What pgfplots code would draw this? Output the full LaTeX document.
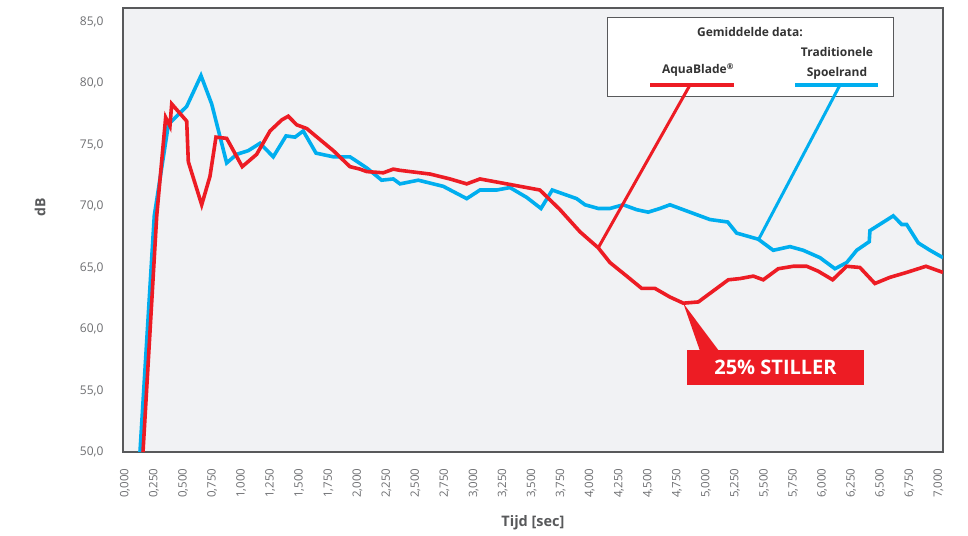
\documentclass[border=0pt]{standalone}
\usepackage{pgfplots}
\pgfplotsset{compat=1.18}
\usepackage{fontspec}
\setmainfont{Open Sans}
\definecolor{aqred}{HTML}{ED1C24}
\definecolor{aqblue}{HTML}{00AEEF}
\definecolor{plotbg}{HTML}{F1F2F4}
\definecolor{frame}{HTML}{58595B}
\definecolor{ticktxt}{HTML}{6D6E71}
\definecolor{labtxt}{HTML}{58595B}
\begin{document}
\begin{tikzpicture}[x=1pt,y=1pt]
\path[use as bounding box] (0,0) rectangle (968,535);
\begin{axis}[
  at={(123pt,83pt)}, anchor=south west,
  scale only axis, width=820pt, height=444pt,
  xmin=-0.0172, xmax=7.04, ymin=50, ymax=86.1,
  axis background/.style={fill=plotbg},
  axis line style={draw=frame, line width=1.1pt},
  clip=true,
  xtick={0,0.25,...,7}, ytick={50,55,...,85},
  major tick length=0pt,
  /pgf/number format/assume math mode=true,
  xticklabel={\pgfmathprintnumber[fixed,fixed zerofill,precision=3,use comma,1000 sep={}]{\tick}},
  yticklabel={\pgfmathprintnumber[fixed,fixed zerofill,precision=1,use comma,1000 sep={}]{\tick}},
  x tick label style={rotate=90, anchor=east, font=\fontsize{11.5}{13}\selectfont, text=ticktxt},
  y tick label style={font=\fontsize{12}{14}\selectfont, text=ticktxt},
  xticklabel shift=13pt,
  yticklabel shift=16pt,
]
\addplot[aqblue, line width=3.6pt, line join=miter] coordinates {
(0.129,50) (0.252,69.2) (0.373,76.6) (0.402,76.9) (0.531,78.1) (0.654,80.6) (0.746,78.3) (0.875,73.5) (0.961,74.2) (1.061,74.5) (1.162,75.1) (1.276,74.0) (1.386,75.7) (1.463,75.6) (1.534,76.1) (1.644,74.3) (1.793,74.0) (1.936,74.0) (2.080,73.1) (2.209,72.1) (2.309,72.2) (2.367,71.8) (2.524,72.1) (2.739,71.6) (2.941,70.6) (3.055,71.3) (3.199,71.3) (3.313,71.5) (3.457,70.7) (3.580,69.8) (3.677,71.3) (3.887,70.6) (3.959,70.1) (4.073,69.8) (4.174,69.8) (4.288,70.1) (4.404,69.7) (4.503,69.5) (4.604,69.8) (4.690,70.1) (4.862,69.5) (5.034,68.9) (5.187,68.7) (5.264,67.8) (5.450,67.3) (5.579,66.4) (5.723,66.7) (5.837,66.4) (5.981,65.8) (6.110,64.9) (6.211,65.4) (6.297,66.4) (6.405,67.1) (6.411,68.0) (6.612,69.2) (6.684,68.5) (6.727,68.5) (6.827,67.0) (6.928,66.4) (7.040,65.8)
};
\addplot[aqred, line width=3.6pt, line join=miter] coordinates {
(0.155,50) (0.273,69.2) (0.350,77.2) (0.387,76.5) (0.402,78.3) (0.531,76.9) (0.545,73.6) (0.660,70.1) (0.731,72.4) (0.783,75.6) (0.875,75.5) (1.009,73.2) (1.133,74.2) (1.248,76.1) (1.349,77.0) (1.405,77.3) (1.478,76.6) (1.564,76.3) (1.678,75.4) (1.793,74.5) (1.936,73.2) (2.022,73.0) (2.080,72.8) (2.223,72.7) (2.309,73.0) (2.367,72.9) (2.625,72.6) (2.797,72.2) (2.941,71.8) (3.055,72.2) (3.285,71.8) (3.571,71.3) (3.744,69.7) (3.916,67.9) (4.073,66.6) (4.174,65.4) (4.318,64.3) (4.447,63.3) (4.561,63.3) (4.690,62.6) (4.805,62.1) (4.934,62.2) (5.192,64.0) (5.293,64.1) (5.407,64.3) (5.493,64.0) (5.622,64.9) (5.751,65.1) (5.867,65.1) (5.966,64.7) (6.090,64.0) (6.211,65.1) (6.325,65.0) (6.454,63.7) (6.583,64.2) (6.727,64.6) (6.893,65.1) (7.040,64.6)
};
\end{axis}
% axis titles
\node[rotate=90, font=\bfseries\fontsize{14}{16}\selectfont, text=labtxt] at (40,328) {dB};
\node[font=\bfseries\fontsize{14.5}{16}\selectfont, text=labtxt] at (533,12) {Tijd [sec]};
% legend box
\draw[frame, line width=1pt, fill=white] (607,517) rectangle (893,438);
\node[font=\bfseries\fontsize{12}{14}\selectfont, text=black!80] at (750,502.5) {Gemiddelde data:};
\node[font=\bfseries\fontsize{12}{14}\selectfont, text=black!80] at (698,465) {AquaBlade\textsuperscript{\textregistered}};
\node[font=\bfseries\fontsize{12}{14}\selectfont, text=black!80] at (837,482.5) {Traditionele};
\node[font=\bfseries\fontsize{12}{14}\selectfont, text=black!80] at (837,461.5) {Spoelrand};
% callout lines
\draw[aqred, line width=3.4pt] (650,450) -- (734,450);
\draw[aqblue, line width=3.4pt] (795,450) -- (878,450);
\draw[aqred, line width=3pt] (690,450) -- (598.3,287.3);
\draw[aqblue, line width=3pt] (840,450) -- (758.3,295);
% 25% stiller callout
\fill[aqred] (683.3,231.7) -- (700,184) -- (719,184) -- cycle;
\fill[aqred] (687,185) rectangle (864,150);
\node[font=\bfseries\fontsize{20}{22}\selectfont, text=white] at (775.5,168) {25\% STILLER};
\end{tikzpicture}
\end{document}
